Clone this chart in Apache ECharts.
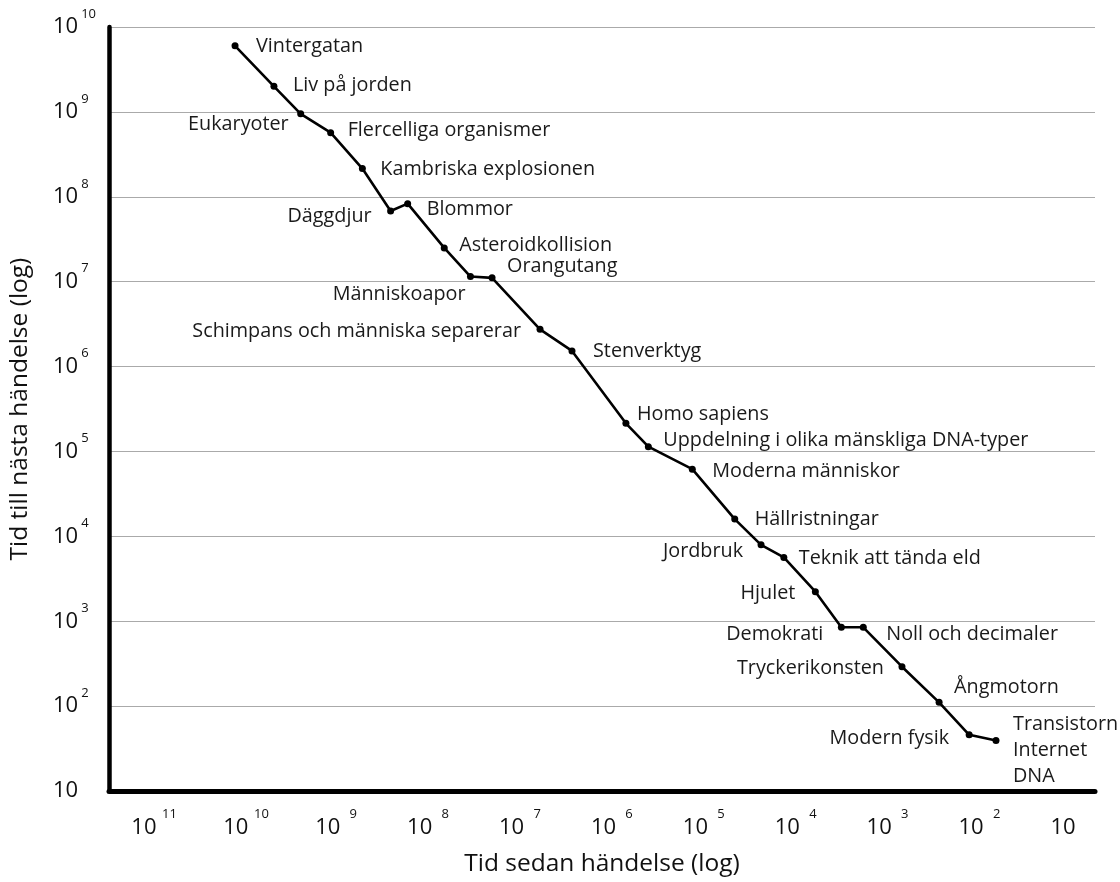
<!DOCTYPE html>
<html>
<head>
<meta charset="utf-8">
<script src="https://cdn.jsdelivr.net/npm/echarts@6/dist/echarts.min.js"></script>
<style>
  html, body { margin: 0; padding: 0; background: #fff; }
  #chart { width: 1120px; height: 882px; }
</style>
</head>
<body>
<div id="chart"></div>
<script>
// ---- Data ----
const events = [
  'Vintergatan', 'Liv på jorden', 'Eukaryoter', 'Flercelliga organismer',
  'Kambriska explosionen', 'Däggdjur', 'Blommor', 'Asteroidkollision',
  'Människoapor', 'Orangutang', 'Schimpans och människa separerar', 'Stenverktyg',
  'Homo sapiens', 'Uppdelning i olika mänskliga DNA-typer', 'Moderna människor',
  'Hällristningar', 'Jordbruk', 'Teknik att tända eld', 'Hjulet', 'Demokrati',
  'Noll och decimaler', 'Tryckerikonsten', 'Ångmotorn', 'Modern fysik',
  'Transistorn\nInternet\nDNA'
];
// years before present (x axis, log)
const yearsAgo = [
  1.02e10, 3.85e9, 1.97e9, 9.3e8, 4.2e8, 2.07e8, 1.35e8, 5.4e7,
  2.8e7, 1.63e7, 4.9e6, 2.2e6, 5.7e5, 3.25e5, 1.08e5, 3.73e4,
  1.93e4, 1.09e4, 4.95e3, 2.58e3, 1.49e3, 565, 223, 105, 53.6
];
// years to next event (y axis, log)
const timeToNext = [
  6.0e9, 2.0e9, 9.5e8, 5.7e8, 2.15e8, 6.8e7, 8.3e7, 2.5e7,
  1.15e7, 1.11e7, 2.75e6, 1.53e6, 2.15e5, 1.14e5, 6.2e4, 1.6e4,
  7.96e3, 5.66e3, 2.23e3, 850, 850, 292, 111, 46, 39.4
];
// tick exponents
const xTickExponents = [1, 2, 3, 4, 5, 6, 7, 8, 9, 10, 11];
const yTickExponents = [1, 2, 3, 4, 5, 6, 7, 8, 9, 10];
const xAxisTitle = 'Tid sedan händelse (log)';
const yAxisTitle = 'Tid till nästa händelse (log)';

// ---- Label placement (style only): side, gap to text edge, vertical shift ----
const labelPlacement = [
  ['right', 21, 1], ['right', 19, -1], ['left', 12, 11], ['right', 17, -2],
  ['right', 18, 1], ['left', 19, 5], ['right', 19, 6], ['right', 15, -3],
  ['left', 5, 18], ['right', 15, -11], ['left', 19, 2], ['right', 21, 0],
  ['right', 11, -9], ['right', 15, -6], ['right', 20, 2], ['right', 20, 0],
  ['left', 18, 7], ['right', 15, 1], ['left', 20, 2], ['left', 18, 7],
  ['right', 23, 7], ['left', 18, 2], ['right', 15, -15], ['left', 20, 4],
  ['right', 17, 10]
];

const FONT = "'Open Sans', 'Noto Sans', sans-serif";
const SYM = 7;

const seriesData = events.map((name, i) => ({
  name: name,
  value: [Math.log10(yearsAgo[i]), Math.log10(timeToNext[i])],
  label: { position: labelPlacement[i][0] }
}));

const chart = echarts.init(document.getElementById('chart'), null, { renderer: 'canvas' });
chart.setOption({
  backgroundColor: '#fff',
  animation: false,
  grid: { left: 109, right: 25, top: 27, bottom: 90, containLabel: false },
  xAxis: {
    type: 'value',
    inverse: true,
    min: 0.652,
    max: 11.38,
    name: xAxisTitle,
    nameLocation: 'middle',
    nameGap: 54,
    nameTextStyle: { fontFamily: FONT, fontSize: 24.5, color: '#111' },
    axisLine: { show: true, lineStyle: { color: '#000', width: 5, cap: 'round' } },
    axisTick: { show: false },
    splitLine: { show: false },
    axisLabel: {
      customValues: xTickExponents,
      margin: 17,
      fontFamily: FONT,
      fontSize: 22,
      lineHeight: 39,
      color: '#111',
      formatter: v => v === 1 ? '10' : '{p|}10{s|' + v + '}',
      rich: {
        p: { width: 20 },
        s: { fontSize: 13, lineHeight: 13, verticalAlign: 'top', padding: [0, 0, 0, 6], width: 14, align: 'left', fontFamily: FONT, color: '#111' }
      }
    }
  },
  yAxis: {
    type: 'value',
    min: 1,
    max: 10,
    interval: 1,
    name: yAxisTitle,
    nameLocation: 'middle',
    nameGap: 76,
    nameTextStyle: { fontFamily: FONT, fontSize: 24.5, color: '#111' },
    axisLine: { show: true, lineStyle: { color: '#000', width: 4.5, cap: 'round' } },
    axisTick: { show: false },
    splitLine: { show: true, lineStyle: { color: '#aaaaaa', width: 1 } },
    axisLabel: {
      margin: 56,
      align: 'left',
      fontFamily: FONT,
      fontSize: 22,
      lineHeight: 39,
      color: '#111',
      formatter: v => v === 1 ? '10' : '10{s|' + v + '}',
      rich: { s: { fontSize: 13, lineHeight: 13, verticalAlign: 'top', padding: [0, 0, 0, 3], fontFamily: FONT, color: '#111' } }
    }
  },
  series: [{
    type: 'line',
    data: seriesData,
    symbol: 'circle',
    symbolSize: SYM,
    lineStyle: { color: '#000', width: 2.6 },
    itemStyle: { color: '#000' },
    label: {
      show: true,
      distance: 0,
      formatter: '{b}',
      fontFamily: FONT,
      fontSize: 19.8,
      lineHeight: 26,
      color: '#1a1a1a'
    },
    labelLayout: function (params) {
      const p = labelPlacement[params.dataIndex];
      const gap = p[1] - SYM / 2;
      return { dx: p[0] === 'right' ? gap : -gap, dy: p[2], hideOverlap: false };
    },
    z: 5
  }]
});
</script>
</body>
</html>
